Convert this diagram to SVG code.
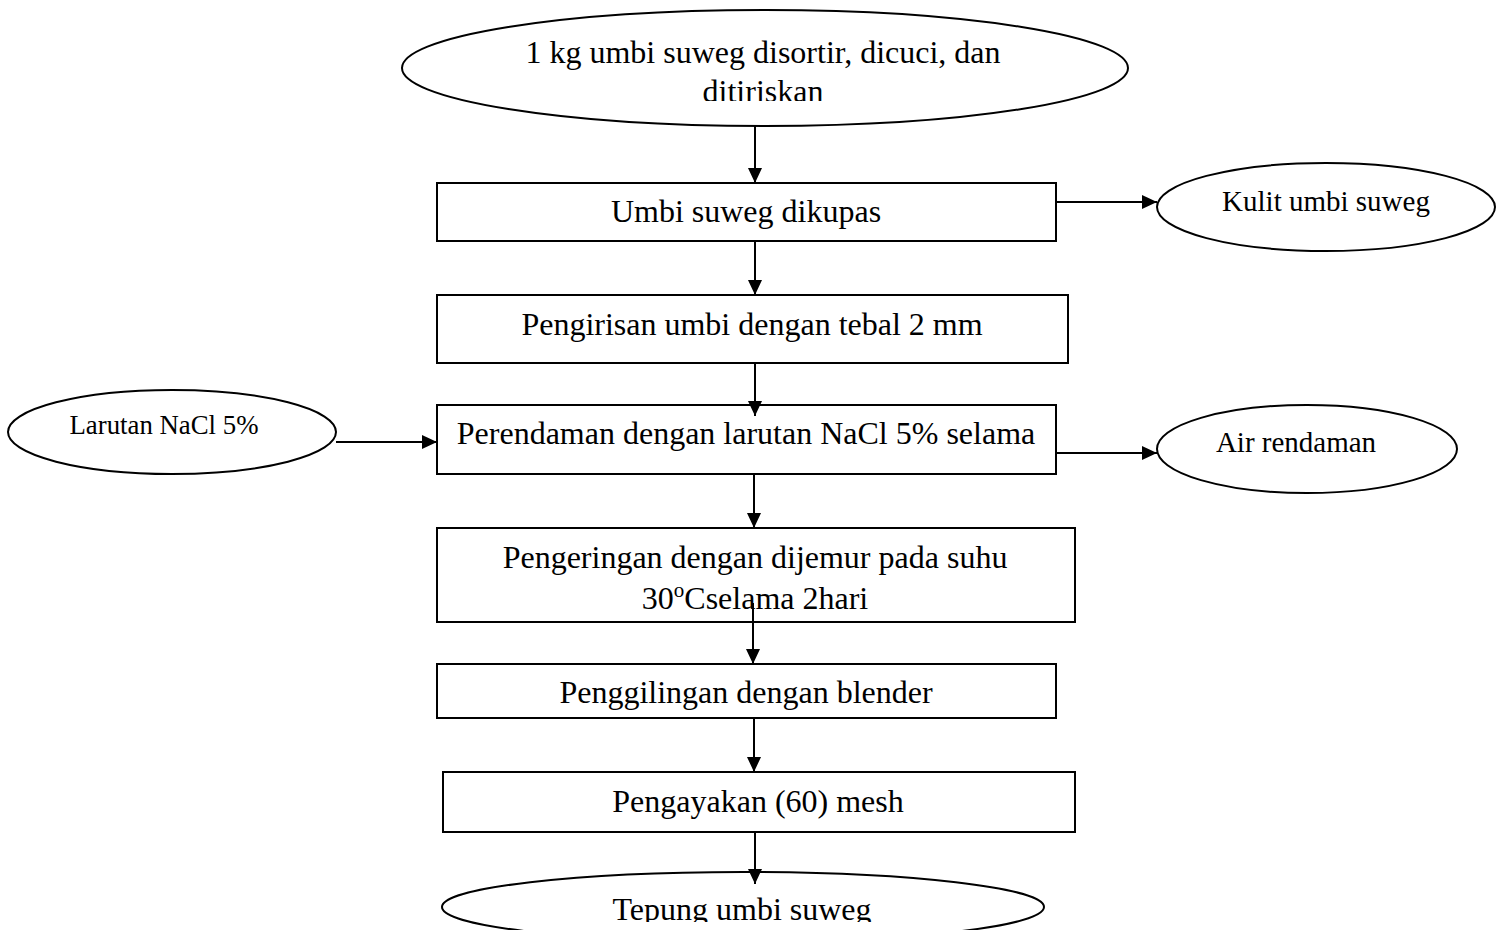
<svg xmlns="http://www.w3.org/2000/svg" width="1502" height="930" viewBox="0 0 1502 930">
<style>
.shape{fill:#fff;stroke:#000;stroke-width:2}
.t{font-family:"Liberation Serif","Times New Roman",serif;font-size:32px;fill:#000;text-anchor:middle}
.ts{font-size:29px}
.tl{font-size:26.8px}
.c{stroke:#000;stroke-width:2;fill:none}
</style>
<defs>
<marker id="ah" viewBox="0 0 15 14" refX="15" refY="7" markerWidth="15" markerHeight="14" markerUnits="userSpaceOnUse" orient="auto">
<path d="M0,0 L15,7 L0,14 Z" fill="#000"/>
</marker>
<clipPath id="clipTop"><rect x="0" y="0" width="1502" height="101"/></clipPath>
<clipPath id="clipBot"><rect x="0" y="0" width="1502" height="922"/></clipPath>
</defs>
<rect width="1502" height="930" fill="#fff"/>

<g id="n-start">
<ellipse class="shape" cx="765" cy="68" rx="363" ry="58"/>
<text class="t" x="763" y="63">1 kg umbi suweg disortir, dicuci, dan</text>
<text class="t" x="763" y="102" clip-path="url(#clipTop)">ditiriskan</text>
</g>

<g id="n-kupas">
<rect class="shape" x="437" y="183" width="619" height="58"/>
<text class="t" x="746" y="222">Umbi suweg dikupas</text>
</g>

<g id="n-kulit">
<ellipse class="shape" cx="1326" cy="207" rx="169" ry="44"/>
<text class="t ts" x="1326" y="211">Kulit umbi suweg</text>
</g>

<g id="n-iris">
<rect class="shape" x="437" y="295" width="631" height="68"/>
<text class="t" x="752" y="335">Pengirisan umbi dengan tebal 2 mm</text>
</g>

<g id="n-larutan">
<ellipse class="shape" cx="172" cy="432" rx="164" ry="42"/>
<text class="t tl" x="164" y="434">Larutan NaCl 5%</text>
</g>

<g id="n-rendam">
<rect class="shape" x="437" y="405" width="619" height="69"/>
<text class="t" x="746" y="444">Perendaman dengan larutan NaCl 5% selama</text>
</g>

<g id="n-air">
<ellipse class="shape" cx="1307" cy="449" rx="150" ry="44"/>
<text class="t ts" x="1296" y="452">Air rendaman</text>
</g>

<g id="n-kering">
<rect class="shape" x="437" y="528" width="638" height="94"/>
<text class="t" x="755" y="568">Pengeringan dengan dijemur pada suhu</text>
<text class="t" x="755" y="609">30<tspan font-size="21" dy="-12">o</tspan><tspan dy="12">Cselama 2hari</tspan></text>
</g>

<g id="n-giling">
<rect class="shape" x="437" y="664" width="619" height="54"/>
<text class="t" x="746" y="703">Penggilingan dengan blender</text>
</g>

<g id="n-ayak">
<rect class="shape" x="443" y="772" width="632" height="60"/>
<text class="t" x="758" y="812">Pengayakan (60) mesh</text>
</g>

<g id="n-tepung">
<ellipse class="shape" cx="743" cy="907" rx="301" ry="35"/>
<text class="t" x="742" y="920" clip-path="url(#clipBot)">Tepung umbi suweg</text>
</g>

<g id="connectors">
<line class="c" x1="755" y1="126" x2="755" y2="183" marker-end="url(#ah)"/>
<line class="c" x1="755" y1="241" x2="755" y2="295" marker-end="url(#ah)"/>
<line class="c" x1="755" y1="363" x2="755" y2="416" marker-end="url(#ah)"/>
<line class="c" x1="754" y1="474" x2="754" y2="528" marker-end="url(#ah)"/>
<line class="c" x1="753" y1="603" x2="753" y2="664" marker-end="url(#ah)"/>
<line class="c" x1="754" y1="718" x2="754" y2="772" marker-end="url(#ah)"/>
<line class="c" x1="755" y1="832" x2="755" y2="884" marker-end="url(#ah)"/>
<line class="c" x1="1056" y1="202" x2="1157" y2="202" marker-end="url(#ah)"/>
<line class="c" x1="1056" y1="453" x2="1157" y2="453" marker-end="url(#ah)"/>
<line class="c" x1="336" y1="442" x2="437" y2="442" marker-end="url(#ah)"/>
</g>
</svg>
